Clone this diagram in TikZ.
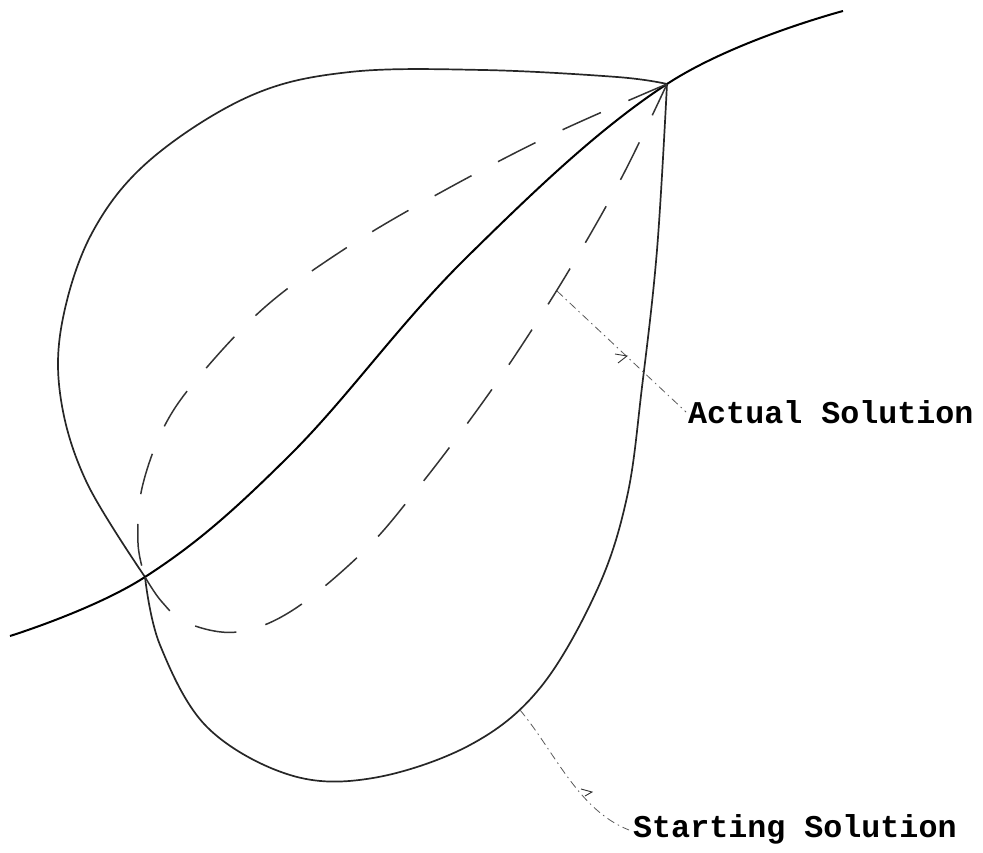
\documentclass[tikz,border=0pt]{standalone}
\usepackage{fontspec}
\setmonofont{Liberation Mono}
\begin{document}
\begin{tikzpicture}[x=1pt,y=-1pt,
  outline/.style={line width=1.7pt, black!85, line join=round},
  actualcurve/.style={line width=2pt, black},
  dashcurve/.style={line width=1.5pt, black!80, dash pattern=on 42pt off 30pt},
  leader/.style={line width=0.8pt, black!65, dash pattern=on 8pt off 4pt on 1.5pt off 4pt},
  tick/.style={line width=0.9pt, black!80},
  lbl/.style={inner sep=0pt, font=\fontsize{31.7}{34}\selectfont\ttfamily\bfseries}]
\useasboundingbox (0,0) rectangle (983,853);
\coordinate (A) at (145,577);
\coordinate (B) at (667,84);
% outer loop, upper-left part
\draw[outline] plot[smooth, tension=0.6] coordinates {(145,577) (87,483) (61,400) (62,323) (92,233) (150,160) (250,96) (350,72) (483,70) (617,77) (667,84)};
% outer loop, lower-right part
\draw[outline] plot[smooth, tension=0.6] coordinates {(145,577) (160,645) (207,727) (290,775) (373,778) (470,745) (540,688) (597,590) (627,497) (642,387) (657,250) (667,84)};
% actual solution curve
\draw[actualcurve] plot[smooth, tension=0.65] coordinates {(10,636) (145,577) (290,455) (467,257) (667,84) (843,11)};
% dashed curves
\draw[dashcurve] plot[smooth, tension=0.6] coordinates {(667,84) (545,138) (427,200) (340,252) (265,307) (202,373) (165,425) (142,488) (138,543) (145,577)};
\draw[dashcurve] plot[smooth, tension=0.6] coordinates {(145,577) (162,602) (187,623) (237,632) (293,610) (365,550) (418,488) (475,413) (522,345) (574,262) (623,175) (667,84)};
% labels
\node[lbl, anchor=base west] (actual) at (688,423) {Actual Solution};
\node[lbl, anchor=base west] (starting) at (633,837) {Starting Solution};
% leaders
\coordinate (pa) at (557,291);
\coordinate (ps) at (520,710);
\draw[leader] (pa) -- ([xshift=-2pt,yshift=11pt]actual.base west);
\draw[leader] (ps) .. controls (555,752) and (578,810) .. ([xshift=-4pt,yshift=7pt]starting.base west);
\coordinate (ta) at (627,356);
\draw[tick] ([shift={(-12pt,2pt)}]ta) -- (ta) -- ([shift={(-9pt,-7pt)}]ta);
\coordinate (ts) at (592,792);
\draw[tick] ([shift={(-11pt,3pt)}]ts) -- (ts) -- ([shift={(-7pt,-4pt)}]ts);
\end{tikzpicture}
\end{document}
